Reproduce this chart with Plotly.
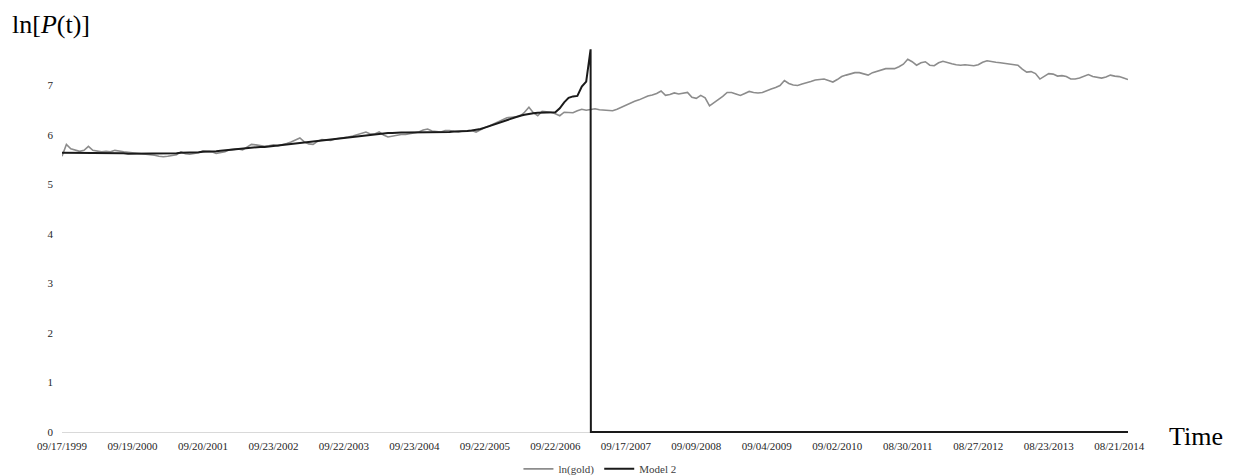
import plotly.graph_objects as go

# Sampling: one observation every 16 trading days, 256 trading days between date labels
STEP = 16

# ln(gold price), sampled along the trading-day axis
ln_gold = [
    5.57, 5.81, 5.72, 5.69, 5.67, 5.69, 5.77, 5.69, 5.67, 5.66,
    5.67, 5.66, 5.69, 5.67, 5.66, 5.65, 5.64, 5.64, 5.63, 5.62,
    5.60, 5.59, 5.57, 5.56, 5.57, 5.58, 5.60, 5.66, 5.62, 5.61,
    5.62, 5.64, 5.68, 5.67, 5.66, 5.63, 5.64, 5.66, 5.70, 5.71,
    5.72, 5.70, 5.75, 5.81, 5.80, 5.78, 5.77, 5.78, 5.80, 5.78,
    5.80, 5.83, 5.86, 5.90, 5.94, 5.86, 5.82, 5.81, 5.87, 5.91,
    5.90, 5.89, 5.92, 5.93, 5.95, 5.96, 5.98, 6.01, 6.04, 6.06,
    6.02, 6.02, 6.06, 6.00, 5.96, 5.98, 6.00, 6.01, 6.01, 6.03,
    6.04, 6.06, 6.10, 6.12, 6.08, 6.07, 6.06, 6.09, 6.09, 6.07,
    6.06, 6.08, 6.09, 6.09, 6.06, 6.11, 6.15, 6.18, 6.22, 6.26,
    6.31, 6.35, 6.36, 6.37, 6.38, 6.46, 6.56, 6.45, 6.39, 6.48,
    6.47, 6.46, 6.43, 6.39, 6.46, 6.46, 6.45, 6.49, 6.52, 6.50,
    6.52, 6.53, 6.51, 6.50, 6.49, 6.49, 6.52, 6.56, 6.61, 6.65,
    6.68, 6.71, 6.75, 6.79, 6.81, 6.84, 6.89, 6.80, 6.82, 6.85,
    6.83, 6.84, 6.86, 6.76, 6.74, 6.80, 6.75, 6.59, 6.65, 6.72,
    6.78, 6.86, 6.86, 6.83, 6.80, 6.84, 6.88, 6.86, 6.85, 6.86,
    6.90, 6.93, 6.96, 7.00, 7.10, 7.04, 7.01, 7.00, 7.03, 7.05,
    7.08, 7.11, 7.12, 7.13, 7.10, 7.07, 7.12, 7.18, 7.21, 7.24,
    7.26, 7.26, 7.23, 7.21, 7.26, 7.29, 7.32, 7.34, 7.34, 7.34,
    7.38, 7.43, 7.53, 7.48, 7.41, 7.46, 7.48, 7.41, 7.40, 7.46,
    7.49, 7.46, 7.44, 7.42, 7.41, 7.42, 7.41, 7.40, 7.42, 7.47,
    7.50, 7.48, 7.47, 7.46, 7.45, 7.44, 7.43, 7.41, 7.33, 7.27,
    7.28, 7.24, 7.13, 7.19, 7.24, 7.23, 7.19, 7.20, 7.18, 7.13,
    7.13, 7.15, 7.19, 7.22, 7.18, 7.16, 7.15, 7.17, 7.21, 7.19,
    7.18, 7.15, 7.12,
]

# Model 2 fit up to the critical time
model2_fit = [
    5.64, 5.64, 5.64, 5.64, 5.64, 5.64, 5.64, 5.64, 5.64, 5.64,
    5.64, 5.63, 5.63, 5.63, 5.63, 5.62, 5.62, 5.62, 5.62, 5.62,
    5.62, 5.62, 5.62, 5.62, 5.63, 5.63, 5.63, 5.64, 5.64, 5.64,
    5.65, 5.65, 5.66, 5.66, 5.67, 5.67, 5.68, 5.69, 5.70, 5.70,
    5.71, 5.72, 5.73, 5.74, 5.75, 5.76, 5.76, 5.77, 5.78, 5.79,
    5.80, 5.81, 5.82, 5.83, 5.84, 5.85, 5.86, 5.87, 5.88, 5.89,
    5.91, 5.92, 5.93, 5.94, 5.95, 5.96, 5.97, 5.98, 5.99, 6.00,
    6.01, 6.02, 6.03, 6.03, 6.04, 6.04, 6.05, 6.05, 6.05, 6.05,
    6.06, 6.06, 6.06, 6.06, 6.06, 6.06, 6.06, 6.06, 6.06, 6.07,
    6.07, 6.07, 6.08, 6.09, 6.10, 6.12, 6.15, 6.18, 6.21, 6.25,
    6.28, 6.31, 6.34, 6.37, 6.39, 6.41, 6.43, 6.44, 6.45, 6.45,
    6.46, 6.46, 6.46, 6.54, 6.66, 6.75, 6.78, 6.79, 6.98, 7.08,
    7.73,
]
# After the critical time the model series is empty and plotted as zero
model2_after = [0.0, 0.0]

date_labels = [
    "09/17/1999", "09/19/2000", "09/20/2001", "09/23/2002", "09/22/2003",
    "09/23/2004", "09/22/2005", "09/22/2006", "09/17/2007", "09/09/2008",
    "09/04/2009", "09/02/2010", "08/30/2011", "08/27/2012", "08/23/2013",
    "08/21/2014",
]
LABEL_EVERY = 256

gold_days = [i * STEP for i in range(len(ln_gold))]
last_day = gold_days[-1]
crit_day = (len(model2_fit) - 1) * STEP
model_days = [i * STEP for i in range(len(model2_fit))] + [crit_day + 1, last_day]
model_vals = model2_fit + model2_after

FONT = "Liberation Serif, Times New Roman, serif"

fig = go.Figure()
fig.add_trace(go.Scatter(
    x=gold_days, y=ln_gold, mode="lines", name="ln(gold)",
    line=dict(color="#8c8c8c", width=1.6),
))
fig.add_trace(go.Scatter(
    x=model_days, y=model_vals, mode="lines", name="Model 2",
    line=dict(color="#1a1a1a", width=2),
))

fig.update_layout(
    width=1237, height=476,
    margin=dict(l=62, r=109, t=36, b=43, autoexpand=False),
    paper_bgcolor="white", plot_bgcolor="white",
    font=dict(family=FONT, size=11, color="#262626"),
    showlegend=True,
    legend=dict(
        orientation="h", xref="container", x=0.485, xanchor="center",
        yref="container", y=0.015, yanchor="middle",
        font=dict(family=FONT, size=11, color="#404040"),
        itemwidth=30, bgcolor="rgba(0,0,0,0)",
    ),
    xaxis=dict(
        range=[0, last_day], showgrid=False, zeroline=False, showline=False,
        automargin=False,
        tickmode="array",
        tickvals=[k * LABEL_EVERY for k in range(len(date_labels))],
        ticktext=date_labels, ticks="", ticklabelstandoff=5,
        tickfont=dict(family=FONT, size=11, color="#262626"),
    ),
    yaxis=dict(
        range=[-0.02, 8.0], showgrid=False, showline=False, automargin=False,
        zeroline=True, zerolinecolor="#d9d9d9", zerolinewidth=1,
        tickmode="array", tickvals=list(range(0, 8)), ticks="",
        ticklabelstandoff=8,
        tickfont=dict(family=FONT, size=11, color="#262626"),
    ),
    annotations=[
        dict(text="ln[<i>P</i>(t)]", xref="paper", yref="paper",
             x=-0.049, y=1.03, xanchor="left", yanchor="middle",
             showarrow=False, font=dict(family=FONT, size=26, color="black")),
        dict(text="Time", xref="paper", yref="paper",
             x=1.0638, y=-0.008, xanchor="center", yanchor="middle",
             showarrow=False, font=dict(family=FONT, size=26, color="black")),
    ],
)

fig.write_html("out.html")
